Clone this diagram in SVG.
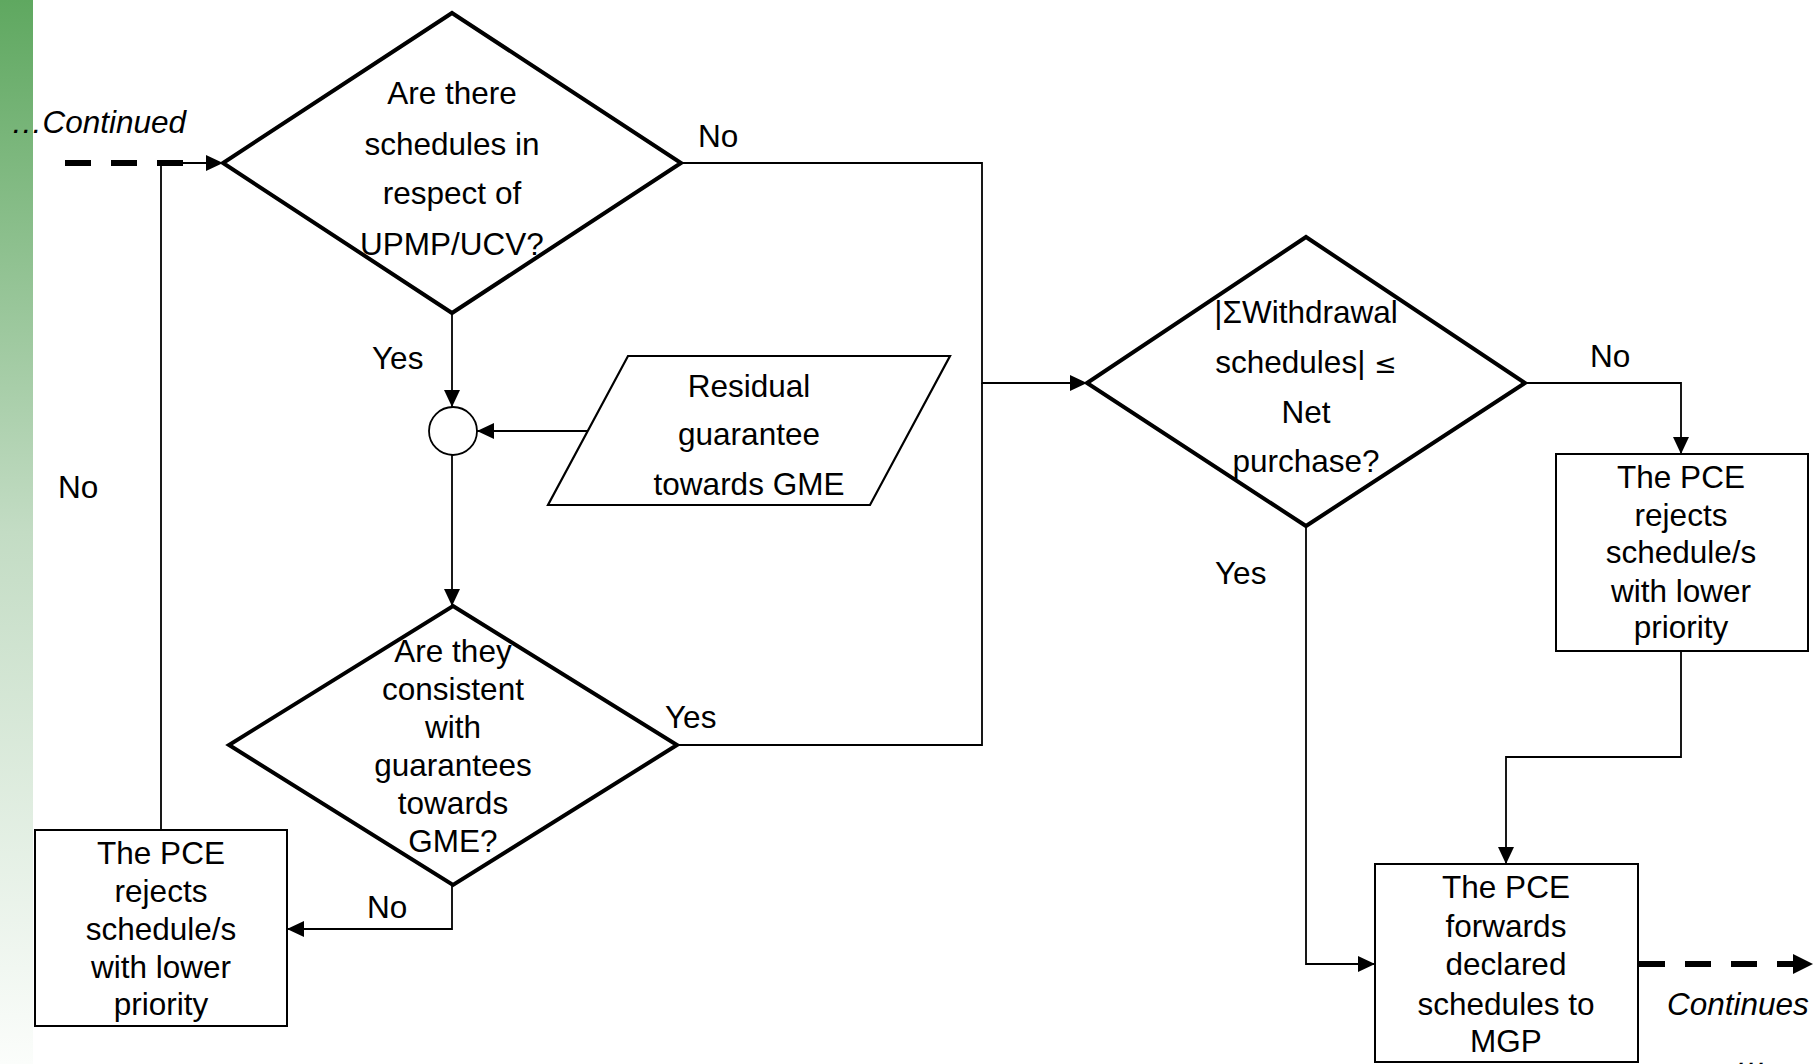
<svg xmlns="http://www.w3.org/2000/svg" width="1814" height="1064" viewBox="0 0 1814 1064">
<style>
text{font-family:"Liberation Sans",Arial,sans-serif;font-size:31.5px;fill:#000}
.c{text-anchor:middle}
.it{font-style:italic}
.dia{fill:none;stroke:#000;stroke-width:4;stroke-linejoin:miter}
.box{fill:none;stroke:#000;stroke-width:2}
.ln{fill:none;stroke:#000;stroke-width:1.8}
.dash{fill:none;stroke:#000;stroke-width:6;stroke-dasharray:26 20}
</style>
<defs>
<linearGradient id="g" x1="0" y1="0" x2="0" y2="1">
<stop offset="0" stop-color="#5fa860"/>
<stop offset="0.5" stop-color="#c3dcc4"/>
<stop offset="1" stop-color="#fbfdfb"/>
</linearGradient>
<marker id="a" markerUnits="userSpaceOnUse" markerWidth="18" markerHeight="16" refX="17" refY="8" orient="auto"><path d="M0,0 L17,8 L0,16 Z" fill="#000"/></marker>
</defs>
<rect x="0" y="0" width="1814" height="1064" fill="#fff"/>
<rect x="0" y="0" width="33" height="1064" fill="url(#g)"/>

<g id="connectors">
<path class="dash" d="M65,163 H186"/>
<path class="ln" d="M161,830 V163 H223" marker-end="url(#a)"/>
<path class="ln" d="M681,163 H982 V383 H1087" marker-end="url(#a)"/>
<path class="ln" d="M677,745 H982 V383"/>
<path class="ln" d="M452,313 V407" marker-end="url(#a)"/>
<path class="ln" d="M587,431 H477" marker-end="url(#a)"/>
<path class="ln" d="M452,455 V606" marker-end="url(#a)"/>
<path class="ln" d="M452,885 V929 H287" marker-end="url(#a)"/>
<path class="ln" d="M1525,383 H1681 V454" marker-end="url(#a)"/>
<path class="ln" d="M1306,526 V964 H1375" marker-end="url(#a)"/>
<path class="ln" d="M1681,651 V757 H1506 V864" marker-end="url(#a)"/>
<path class="dash" d="M1639,964 H1795"/>
<path d="M1793,954 L1813,964 L1793,974 Z" fill="#000"/>
<text x="698" y="147">No</text>
<text x="372" y="369">Yes</text>
<text x="58" y="498">No</text>
<text x="665" y="728">Yes</text>
<text x="367" y="918">No</text>
<text x="1590" y="367">No</text>
<text x="1215" y="584">Yes</text>
<text class="it" x="11" y="133">…Continued</text>
<text class="it" x="1667" y="1015">Continues</text>
<text class="it c" x="1752" y="1066">…</text>
</g>

<g id="d1">
<polygon class="dia" points="452,13 681,163 452,313 223,163"/>
<text class="c" x="452" y="104">Are there</text>
<text class="c" x="452" y="155">schedules in</text>
<text class="c" x="452" y="204">respect of</text>
<text class="c" x="452" y="255">UPMP/UCV?</text>
</g>

<g id="junction">
<circle cx="453" cy="431" r="24" fill="#fff" stroke="#000" stroke-width="1.8"/>
</g>

<g id="input">
<polygon points="628,356 950,356 870,505 548,505" fill="none" stroke="#000" stroke-width="2.2"/>
<text class="c" x="749" y="397">Residual</text>
<text class="c" x="749" y="445">guarantee</text>
<text class="c" x="749" y="495">towards GME</text>
</g>

<g id="d2">
<polygon class="dia" points="453,606 677,745 453,885 229,745"/>
<text class="c" x="453" y="662">Are they</text>
<text class="c" x="453" y="700">consistent</text>
<text class="c" x="453" y="738">with</text>
<text class="c" x="453" y="776">guarantees</text>
<text class="c" x="453" y="814">towards</text>
<text class="c" x="453" y="852">GME?</text>
</g>

<g id="reject1">
<rect class="box" x="35" y="830" width="252" height="196"/>
<text class="c" x="161" y="864">The PCE</text>
<text class="c" x="161" y="902">rejects</text>
<text class="c" x="161" y="940">schedule/s</text>
<text class="c" x="161" y="978">with lower</text>
<text class="c" x="161" y="1015">priority</text>
</g>

<g id="d3">
<polygon class="dia" points="1306,237 1525,383 1306,526 1087,383"/>
<text class="c" x="1306" y="323">|ΣWithdrawal</text>
<text class="c" x="1306" y="373">schedules| <tspan font-family="DejaVu Sans" font-size="27">≤</tspan></text>
<text class="c" x="1306" y="423">Net</text>
<text class="c" x="1306" y="472">purchase?</text>
</g>

<g id="reject2">
<rect class="box" x="1556" y="454" width="252" height="197"/>
<text class="c" x="1681" y="488">The PCE</text>
<text class="c" x="1681" y="526">rejects</text>
<text class="c" x="1681" y="563">schedule/s</text>
<text class="c" x="1681" y="602">with lower</text>
<text class="c" x="1681" y="638">priority</text>
</g>

<g id="forward">
<rect class="box" x="1375" y="864" width="263" height="198"/>
<text class="c" x="1506" y="898">The PCE</text>
<text class="c" x="1506" y="937">forwards</text>
<text class="c" x="1506" y="975">declared</text>
<text class="c" x="1506" y="1015">schedules to</text>
<text class="c" x="1506" y="1052">MGP</text>
</g>
</svg>
